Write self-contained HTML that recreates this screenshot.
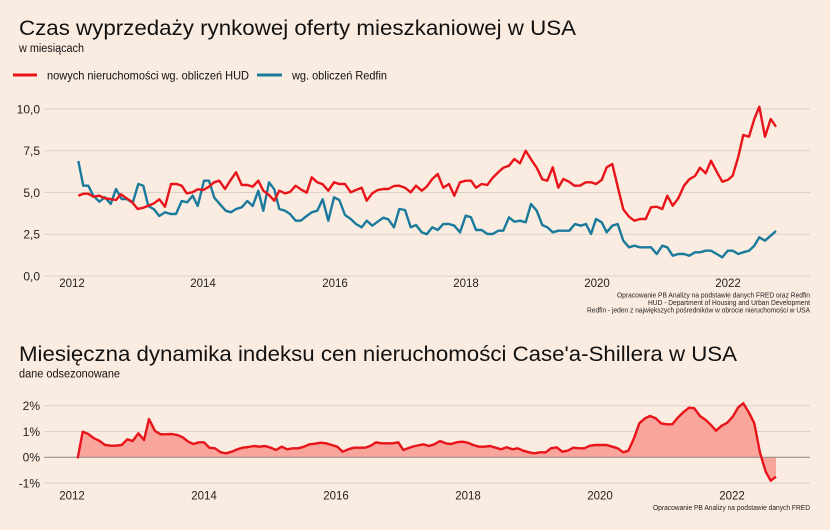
<!DOCTYPE html>
<html><head><meta charset="utf-8"><style>
html,body{margin:0;padding:0;background:#fbece1;}
svg{display:block;font-family:"Liberation Sans",Arial,sans-serif;}
</style></head><body>
<svg width="830" height="530" viewBox="0 0 830 530" xmlns="http://www.w3.org/2000/svg">
<rect width="830" height="530" fill="#fbece1"/>
<!-- Top chart titles -->
<text x="19" y="35" font-size="21" fill="#111" textLength="557" lengthAdjust="spacingAndGlyphs">Czas wyprzedaży rynkowej oferty mieszkaniowej w USA</text>
<text x="19" y="52" font-size="11.5" fill="#111" textLength="65" lengthAdjust="spacingAndGlyphs">w miesiącach</text>
<!-- Legend -->
<line x1="13" y1="75" x2="37" y2="75" stroke="#e8141a" stroke-width="3"/>
<text x="47" y="79.5" font-size="12" fill="#111" textLength="202" lengthAdjust="spacingAndGlyphs">nowych nieruchomości wg. obliczeń HUD</text>
<line x1="257" y1="75" x2="282" y2="75" stroke="#1a7a9c" stroke-width="3"/>
<text x="292" y="79.5" font-size="12" fill="#111" textLength="95" lengthAdjust="spacingAndGlyphs">wg. obliczeń Redfin</text>
<!-- Top grid -->
<g stroke="#dbd1c8" stroke-width="1">
<line x1="44" y1="109" x2="810" y2="109"/>
<line x1="44" y1="150.75" x2="810" y2="150.75"/>
<line x1="44" y1="192.5" x2="810" y2="192.5"/>
<line x1="44" y1="234.25" x2="810" y2="234.25"/>
<line x1="44" y1="276" x2="810" y2="276"/>
</g>
<g font-size="12" fill="#222" text-anchor="end">
<text x="40" y="113.3">10,0</text>
<text x="40" y="155">7,5</text>
<text x="40" y="196.8">5,0</text>
<text x="40" y="238.5">2,5</text>
<text x="40" y="280.3">0,0</text>
</g>
<g font-size="11.5" fill="#222" text-anchor="middle">
<text x="72" y="287">2012</text>
<text x="203" y="287">2014</text>
<text x="335" y="287">2016</text>
<text x="466" y="287">2018</text>
<text x="597" y="287">2020</text>
<text x="728" y="287">2022</text>
</g>
<g font-size="7" fill="#222" text-anchor="end">
<text x="810" y="297.5" textLength="193" lengthAdjust="spacingAndGlyphs">Opracowanie PB Analizy na podstawie danych FRED oraz Redfin</text>
<text x="810" y="305" textLength="162" lengthAdjust="spacingAndGlyphs">HUD - Department of Housing and Urban Development</text>
<text x="810" y="312.5" textLength="223" lengthAdjust="spacingAndGlyphs">Redfin - jeden z największych pośredników w obrocie nieruchomości w USA</text>
</g>
<!-- Blue series -->
<polyline fill="none" stroke="#1a7a9c" stroke-width="2.4" stroke-linejoin="round" points="78.3,161 83.3,185.7 88.3,185.7 93.3,195.7 99.3,201.7 105,197.3 110.7,204 116,189 121.7,199 126.7,199 132.7,202.7 138.3,184 143.3,185.7 148.3,206 154,209.3 159.3,216 165,212.3 170.7,214 176,214 181.7,201 187.3,202.3 192.7,195.7 197.7,206 204,180.7 209,180.7 214.3,197.7 220,204.3 225.7,210.7 231,212.3 236,209 241.7,207.3 247.3,201 252.7,206 258.3,190.7 263.3,210.7 269,182.3 274.3,189.3 279.3,209 285,210.7 290,214 295.7,220.7 300.7,220.7 306.7,216 311.7,212.3 317.3,210.7 322.7,199.3 328.3,220.7 334,197.3 339.3,200 345,215 350.7,219 356,224 361.7,227.3 366.7,220.7 372.3,225.7 377.7,221.7 383.3,217.7 388.3,219.3 394,227.3 399.3,209 405,210 410.7,227.3 416,225 421.7,232.3 426.7,234.3 432.3,227.3 437.7,230 443.3,224 449,224 454.3,225.7 460,232.3 465.7,215.7 471,217.3 476,230 481.7,230 487.3,234 492.7,234 498.3,230.7 503.3,230.7 509,217.3 514.3,221.7 520,220.7 525.7,222.3 531,204 536.7,210.7 542.3,225 547.3,227.3 552.7,232.3 558.3,230.7 564,230.7 569.3,230.7 575,224 580.7,225.7 586,224 591,234 596,219 601.7,222.3 606.7,232.3 612.3,225.7 617.7,224 623.3,240.7 629,247.3 634.3,245.7 640,247.3 645.7,247.3 651,247.3 656.7,254 662.3,245.7 667.3,247.3 672.7,255.7 678.3,254 684,254 689.3,255.7 695,252.3 700,252.3 705.7,250.7 711,250.7 716.7,254 722.3,257.3 727.7,250.7 732.7,250.7 738.3,254 743.3,252.3 749,250.7 754.3,245.7 759.3,237.3 765,240.7 770.7,235.7 776,231"/>
<!-- Red series -->
<polyline fill="none" stroke="#e8141a" stroke-width="2.4" stroke-linejoin="round" points="78.3,195.7 83.3,193.7 88.3,193.7 93.3,196.7 99.3,195.7 105,198.3 110,199 116,200 121,194.3 126.7,198.3 131.7,201.7 137.7,209 143.3,207.7 148.3,205.7 154,203.3 159.3,199.3 165,206.7 171,184 176.7,184 181.7,185.7 186.7,193.3 192.3,192.3 197.7,189.3 203.3,190 209,186.7 214,182.3 219.3,180.7 225,189 230.7,180 236,172.3 241.7,185 247.3,185 252.7,186.7 258.3,180.7 263.3,190.7 269,195 274.3,200.7 279.3,190.7 285,193.3 290,192 295.7,185.7 300.7,189.3 306.7,192.7 311.7,177.3 317.3,182.3 322.7,184.3 328.3,190.7 334,182.3 339.3,184 345,184 350.7,192.3 356,190 361.7,187.7 366.7,200.7 372.3,193.3 377.7,190 383.3,189 388.3,189 394,186 399.3,185.7 405,187.7 410.7,192.3 416,185.7 421.7,190.7 426.7,186.7 432.3,179 437.7,174 443.3,187.7 449,184 454.3,195.7 460,182.3 465.7,180.7 471,180.7 476,187.7 481.7,184 487.3,185 492.7,177.7 498.3,172.3 503.3,167.7 509,165.7 514.3,159 520,163.3 525.7,150.7 531,159.3 536.7,167.7 542.3,179.3 547.3,180.7 552.7,167.3 558.3,187.7 563.3,179 569,181.7 574.3,185.7 580,185.7 585.7,182.3 591,182.3 596,184 601.7,180 606.7,167.3 612.3,164 617.7,186.7 623.3,209.3 629,216.7 634.3,220.7 640,219 645.7,219 651,207.3 656.7,206.7 662.3,209 667.3,195.7 672.7,205.7 678.3,198.3 684,185.7 689.3,179.3 695,176 700,167.7 705.7,173.3 711,160.7 716.7,171.7 722.3,181.7 727.7,180 732.7,175.7 738.3,156.7 743.3,135 749,136.7 754.3,119 759.3,106.7 765,136.7 770.7,119 776,126.7"/>

<!-- Bottom chart -->
<text x="19" y="361" font-size="21" fill="#111" textLength="718" lengthAdjust="spacingAndGlyphs">Miesięczna dynamika indeksu cen nieruchomości Case'a-Shillera w USA</text>
<text x="19" y="377.5" font-size="11.5" fill="#111" textLength="101" lengthAdjust="spacingAndGlyphs">dane odsezonowane</text>
<g stroke="#dbd1c8" stroke-width="1">
<line x1="44" y1="405.7" x2="810" y2="405.7"/>
<line x1="44" y1="431.5" x2="810" y2="431.5"/>
<line x1="44" y1="483" x2="810" y2="483"/>
</g>
<g font-size="12" fill="#222" text-anchor="end">
<text x="40" y="410">2%</text>
<text x="40" y="435.8">1%</text>
<text x="40" y="461.6">0%</text>
<text x="40" y="487.3">-1%</text>
</g>
<g font-size="11.5" fill="#222" text-anchor="middle">
<text x="72" y="499.5">2012</text>
<text x="204" y="499.5">2014</text>
<text x="336" y="499.5">2016</text>
<text x="468" y="499.5">2018</text>
<text x="600" y="499.5">2020</text>
<text x="732" y="499.5">2022</text>
</g>
<text x="810" y="510" font-size="7" fill="#222" text-anchor="end" textLength="157" lengthAdjust="spacingAndGlyphs">Opracowanie PB Analizy na podstawie danych FRED</text>
<polygon fill="#f8a59c" stroke="none" points="77.7,457.3 82.7,431.7 88.3,434 94,438.3 99.3,440.7 105,445 110.7,445.7 116,445.7 121.7,445 127.3,439.3 132.7,441 138.3,433.3 144,440 149,419 155,431 160.7,434.3 166,434.3 171.7,434 177.3,435 182.7,437.3 188.3,441.7 193.3,444 199,442.3 204,442.3 209.3,447.7 215,448.3 220.7,452.3 226,453.3 231.7,451.7 237.3,449.3 242.7,447.7 248.3,447 254,446 259.3,446.7 265,446 270.7,447.7 276,450 281.7,446.7 287.3,449.3 292.7,448.3 298.3,448.3 304,446.7 309.3,444.3 315,443.7 320.7,442.7 326,443.3 331.7,445 337.3,446.7 342.7,451.7 348.3,449.3 354,447.7 359.3,447.7 365,447.7 370.7,445.7 376,442.3 381.7,443.3 387.3,443.3 392.7,443.3 398.3,442.3 403.3,450 409.3,447.7 415,446 420,445 423.3,444.3 429,446 434.3,444.3 440,441 445.7,443.3 451,444 456.7,442.3 462.3,441.7 467.7,442.7 473.3,445 479,446.7 484.3,446.7 490,446 495.7,447.7 501,449.3 506.7,447.3 512.3,449.3 517.7,448.3 523.3,450.7 529,452.3 534.3,453.3 540,452.3 545.7,452.3 551,448.3 556.7,447.3 562.3,451.7 567.7,450.7 573.3,447.7 579,448.3 584.3,448.3 590,445.7 595.7,445 601,445 606.7,445 612.3,446.7 617.7,448.3 623.3,452.3 628.3,450.7 634,438.3 639.3,423.3 645,418.3 650,416 655.7,418.3 661,423.3 666.7,424.3 672.3,424.3 677.7,417.7 683.3,412.3 689,407.7 694.3,408.3 700,416 705.7,420 711,425 716,430.7 721.7,425.7 727.3,422.7 732.7,416.7 738.3,407.3 743.3,403.3 749,412.7 754.3,423.3 760,452.7 765.7,471.7 770.7,480.7 776,476.7 776,457.3"/>
<line x1="44" y1="457.3" x2="810" y2="457.3" stroke="#8c8680" stroke-width="1"/>
<polyline fill="none" stroke="#e8141a" stroke-width="2.4" stroke-linejoin="round" points="77.7,458.3 82.7,431.7 88.3,434 94,438.3 99.3,440.7 105,445 110.7,445.7 116,445.7 121.7,445 127.3,439.3 132.7,441 138.3,433.3 144,440 149,419 155,431 160.7,434.3 166,434.3 171.7,434 177.3,435 182.7,437.3 188.3,441.7 193.3,444 199,442.3 204,442.3 209.3,447.7 215,448.3 220.7,452.3 226,453.3 231.7,451.7 237.3,449.3 242.7,447.7 248.3,447 254,446 259.3,446.7 265,446 270.7,447.7 276,450 281.7,446.7 287.3,449.3 292.7,448.3 298.3,448.3 304,446.7 309.3,444.3 315,443.7 320.7,442.7 326,443.3 331.7,445 337.3,446.7 342.7,451.7 348.3,449.3 354,447.7 359.3,447.7 365,447.7 370.7,445.7 376,442.3 381.7,443.3 387.3,443.3 392.7,443.3 398.3,442.3 403.3,450 409.3,447.7 415,446 420,445 423.3,444.3 429,446 434.3,444.3 440,441 445.7,443.3 451,444 456.7,442.3 462.3,441.7 467.7,442.7 473.3,445 479,446.7 484.3,446.7 490,446 495.7,447.7 501,449.3 506.7,447.3 512.3,449.3 517.7,448.3 523.3,450.7 529,452.3 534.3,453.3 540,452.3 545.7,452.3 551,448.3 556.7,447.3 562.3,451.7 567.7,450.7 573.3,447.7 579,448.3 584.3,448.3 590,445.7 595.7,445 601,445 606.7,445 612.3,446.7 617.7,448.3 623.3,452.3 628.3,450.7 634,438.3 639.3,423.3 645,418.3 650,416 655.7,418.3 661,423.3 666.7,424.3 672.3,424.3 677.7,417.7 683.3,412.3 689,407.7 694.3,408.3 700,416 705.7,420 711,425 716,430.7 721.7,425.7 727.3,422.7 732.7,416.7 738.3,407.3 743.3,403.3 749,412.7 754.3,423.3 760,452.7 765.7,471.7 770.7,480.7 776,476.7"/>
</svg>
</body></html>
